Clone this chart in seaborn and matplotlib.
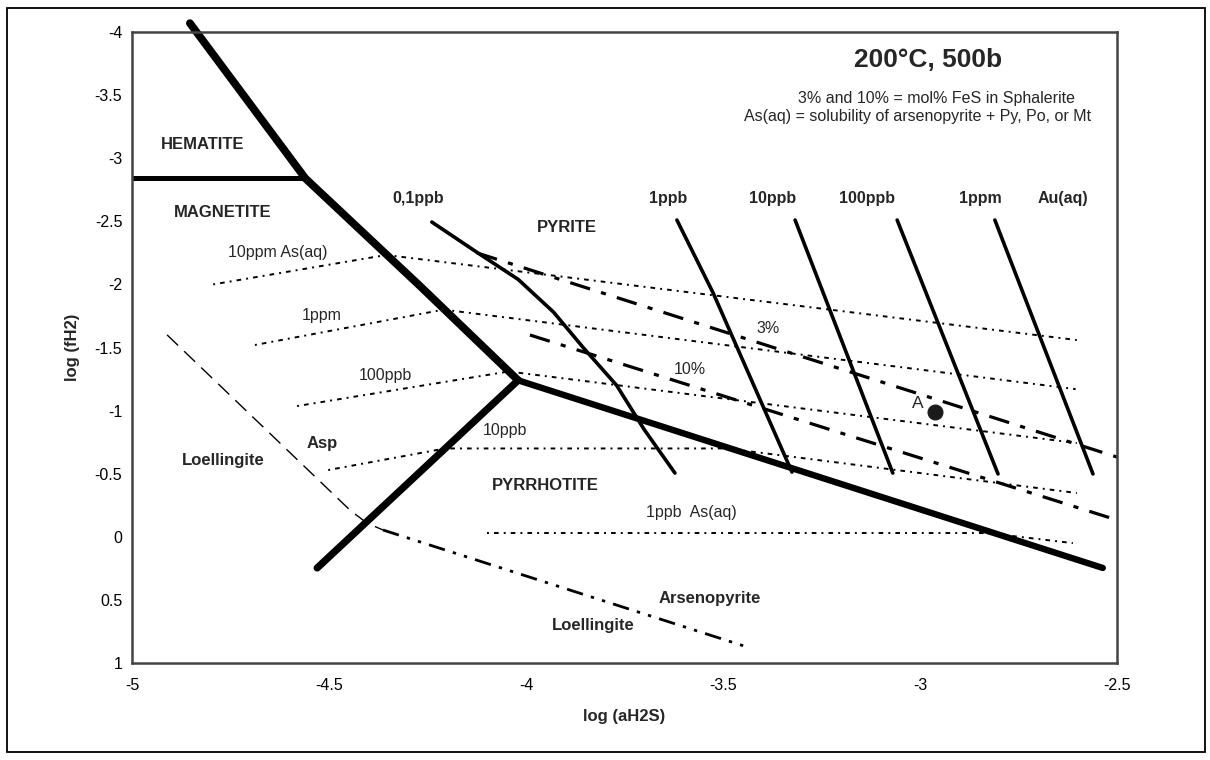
import matplotlib
matplotlib.use("Agg")
import matplotlib.pyplot as plt
import seaborn as sns
from matplotlib.patches import Rectangle

# ---------------- data: x = log(aH2S), y = log(fH2) ----------------
# thick phase boundaries
hem_mag_x = [-5.0, -4.56]
hem_mag_y = [-2.84, -2.84]
pyr_oxide_x = [-4.853, -4.56, -4.27, -4.02]
pyr_oxide_y = [-4.07, -2.84, -1.99, -1.24]
pyr_po_x = [-4.02, -2.536]
pyr_po_y = [-1.24, 0.247]
mag_po_x = [-4.02, -4.53]
mag_po_y = [-1.24, 0.247]

# Au(aq) solubility contours
au_labels = ["0,1ppb", "1ppb", "10ppb", "100ppb", "1ppm"]
au_01ppb_x = [-4.239, -4.122, -4.02, -3.93, -3.855, -3.77, -3.70, -3.622]
au_01ppb_y = [-2.494, -2.249, -2.04, -1.78, -1.50, -1.20, -0.85, -0.505]
au_1ppb_x = [-3.617, -3.525, -3.325]
au_1ppb_y = [-2.51, -1.932, -0.513]
au_10ppb_x = [-3.317, -3.069]
au_10ppb_y = [-2.51, -0.505]
au_100ppb_x = [-3.058, -2.802]
au_100ppb_y = [-2.51, -0.498]
au_1ppm_x = [-2.81, -2.561]
au_1ppm_y = [-2.51, -0.498]

# As(aq) solubility contours
as_labels = ["10ppm As(aq)", "1ppm", "100ppb", "10ppb", "1ppb  As(aq)"]
as_10ppm_x = [-4.794, -4.355, -2.602]
as_10ppm_y = [-2.00, -2.233, -1.559]
as_1ppm_x = [-4.688, -4.209, -2.605]
as_1ppm_y = [-1.52, -1.80, -1.17]
as_100ppb_x = [-4.581, -4.044, -2.602]
as_100ppb_y = [-1.036, -1.31, -0.743]
as_10ppb_x = [-4.502, -4.205, -3.49, -2.602]
as_10ppb_y = [-0.529, -0.70, -0.70, -0.347]
as_1ppb_x = [-4.099, -2.83, -2.612]
as_1ppb_y = [-0.03, -0.03, 0.05]

# mol% FeS in sphalerite
sph_3_x = [-4.124, -2.5]
sph_3_y = [-2.249, -0.632]
sph_10_x = [-3.99, -2.5]
sph_10_y = [-1.599, -0.133]

# Loellingite / arsenopyrite boundary
loe_upper_x = [-4.911, -4.447, -4.404, -4.363]
loe_upper_y = [-1.60, -0.212, -0.109, -0.054]
loe_lower_x = [-4.363, -3.431]
loe_lower_y = [-0.054, 0.881]

# sample point A
point_a_x = [-2.962]
point_a_y = [-0.989]

x_ticks = [-5, -4.5, -4, -3.5, -3, -2.5]
x_tick_labels = ["-5", "-4.5", "-4", "-3.5", "-3", "-2.5"]
y_ticks = [-4, -3.5, -3, -2.5, -2, -1.5, -1, -0.5, 0, 0.5, 1]
y_tick_labels = ["-4", "-3.5", "-3", "-2.5", "-2", "-1.5", "-1", "-0.5", "0", "0.5", "1"]

# ---------------- figure ----------------
sns.set_style("white")
plt.rcParams["font.family"] = ["Liberation Sans", "DejaVu Sans"]

W, H = 1210, 760
fig = plt.figure(figsize=(W / 100, H / 100), dpi=100)
L, R, T, B = 132, 1117, 32, 663
ax = fig.add_axes([L / W, 1 - B / H, (R - L) / W, (B - T) / H])

# outer frame
fig.patches.append(Rectangle((7 / W, 1 - 752 / H), (1205 - 7) / W, (752 - 8) / H,
                             transform=fig.transFigure, fill=False, lw=1.3, ec="black"))


def draw(x, y, lw, ls="-", clip=True, cap="round"):
    sns.lineplot(x=x, y=y, sort=False, estimator=None, color="black",
                 linewidth=lw, ax=ax, legend=False)
    ln = ax.lines[-1]
    ln.set_linestyle(ls)
    ln.set_clip_on(clip)
    ln.set_solid_capstyle(cap)
    ln.set_solid_joinstyle("round")
    return ln


as_style = (0, (1.0, 2.6, 2.4, 2.6))
sph_style = (0, (6.5, 3.6, 1.6, 3.6))
loe_up_style = (0, (11, 6))
loe_low_style = (0, (6, 3, 1.2, 3, 1.2, 3))

# As contours
for xs, ys in [(as_10ppm_x, as_10ppm_y), (as_1ppm_x, as_1ppm_y), (as_100ppb_x, as_100ppb_y),
               (as_10ppb_x, as_10ppb_y), (as_1ppb_x, as_1ppb_y)]:
    draw(xs, ys, 1.4, as_style, cap="butt")

# sphalerite lines
draw(sph_3_x, sph_3_y, 2.3, sph_style, cap="butt")
draw(sph_10_x, sph_10_y, 2.3, sph_style, cap="butt")

# loellingite boundary
draw(loe_upper_x, loe_upper_y, 1.0, loe_up_style, cap="butt")
draw(loe_lower_x, loe_lower_y, 2.0, loe_low_style, cap="butt")

# Au contours
for xs, ys in [(au_01ppb_x, au_01ppb_y), (au_1ppb_x, au_1ppb_y), (au_10ppb_x, au_10ppb_y),
               (au_100ppb_x, au_100ppb_y), (au_1ppm_x, au_1ppm_y)]:
    draw(xs, ys, 2.6)

# phase boundaries
draw(hem_mag_x, hem_mag_y, 3.6)
draw(pyr_oxide_x, pyr_oxide_y, 5.6, clip=False)
draw(pyr_po_x, pyr_po_y, 4.6)
draw(mag_po_x, mag_po_y, 5.2)

# point A
sns.scatterplot(x=point_a_x, y=point_a_y, s=115, color="#1a1a1a", edgecolor="#1a1a1a",
                linewidth=0.8, ax=ax, legend=False, zorder=5)

# axes
ax.set_xlim(-5, -2.5)
ax.set_ylim(1, -4)
ax.set_xticks(x_ticks)
ax.set_xticklabels(x_tick_labels)
ax.set_yticks(y_ticks)
ax.set_yticklabels(y_tick_labels)
ax.tick_params(axis="x", direction="in", length=5, width=1.2, pad=11, labelsize=11.5, colors="black")
ax.tick_params(axis="y", direction="out", length=5, width=1.2, pad=2, labelsize=11.5, colors="black")
for sp in ax.spines.values():
    sp.set_visible(True)
    sp.set_color("#444444")
    sp.set_linewidth(1.8)

ax.set_xlabel("log (aH2S)", fontsize=12, fontweight="bold")
ax.xaxis.label.set_va("center")
ax.xaxis.set_label_coords(0.5, -(717 - B) / (B - T))
ax.set_ylabel("log (fH2)", fontsize=12, fontweight="bold")
ax.yaxis.label.set_va("center")
ax.yaxis.set_label_coords(-(L - 73) / (R - L), 0.5)

# text annotations
bold = dict(fontsize=12, fontweight="bold", ha="center", va="center")
reg = dict(fontsize=11.5, ha="center", va="center")
ax.text(-4.820, -3.105, "HEMATITE", **bold)
ax.text(-4.769, -2.566, "MAGNETITE", **bold)
ax.text(-3.896, -2.447, "PYRITE", **bold)
ax.text(-3.952, -0.410, "PYRRHOTITE", **bold)
ax.text(-4.769, -0.608, "Loellingite", **bold)
ax.text(-4.518, -0.743, "Asp", **bold)
ax.text(-3.533, 0.485, "Arsenopyrite", **bold)
ax.text(-3.830, 0.699, "Loellingite", **bold)

for lab, xx in zip(au_labels + ["Au(aq)"], [-4.274, -3.640, -3.373, -3.135, -2.848, -2.637]):
    ax.text(xx, -2.677, lab, **dict(bold, fontsize=11.5))

for lab, (xx, yy) in zip(as_labels, [(-4.629, -2.249), (-4.518, -1.757), (-4.358, -1.282),
                                     (-4.053, -0.846), (-3.579, -0.189)]):
    ax.text(xx, yy, lab, **reg)

ax.text(-3.386, -1.654, "3%", **reg)
ax.text(-3.584, -1.322, "10%", **reg)
ax.text(-3.005, -1.06, "A", fontsize=12.5, ha="center", va="center")

fig.text(928 / W, 1 - 60 / H, "200°C, 500b", fontsize=19, fontweight="bold", ha="center", va="center")
fig.text(936 / W, 1 - 98 / H, "3% and 10% = mol% FeS in Sphalerite", fontsize=11.5, ha="center", va="center")
fig.text(918 / W, 1 - 116 / H, "As(aq) = solubility of arsenopyrite + Py, Po, or Mt", fontsize=11.5,
         ha="center", va="center")

fig.savefig("out.png", dpi=100)
